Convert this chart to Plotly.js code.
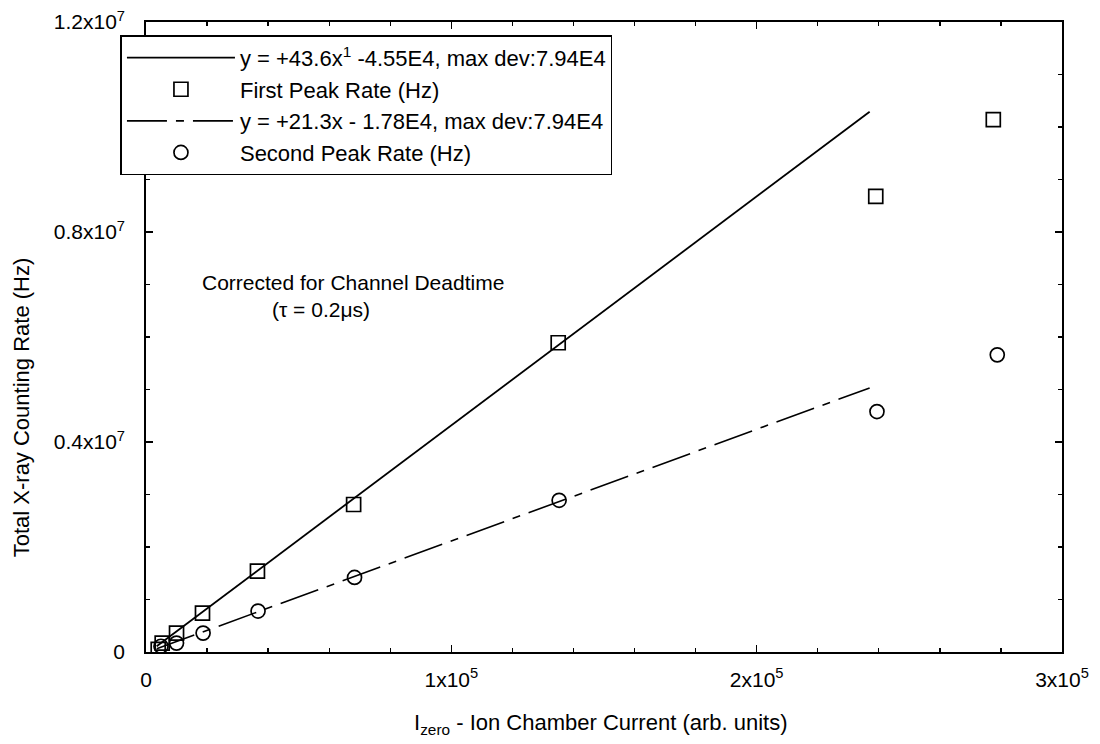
<!DOCTYPE html>
<html>
<head>
<meta charset="utf-8">
<script src="https://cdn.plot.ly/plotly-3.0.1.min.js"></script>
<style>
  html, body { margin: 0; padding: 0; background: #fff; }
  #chart { width: 1100px; height: 744px; }
</style>
</head>
<body>
<div id="chart"></div>
<script>
// ---- data ----
const firstPeakX  = [4000, 5300, 10000, 18500, 36500, 68000, 135000, 239000, 277500];
const firstPeakY  = [50000, 170000, 360000, 740000, 1540000, 2810000, 5890000, 8680000, 10140000];
const secondPeakX = [4900, 10000, 18700, 36700, 68300, 135300, 239400, 278800];
const secondPeakY = [110000, 170000, 360000, 780000, 1420000, 2890000, 4580000, 5660000];
const fit1X = [3500, 237000];
const fit1Y = [110000, 10290000];
const fit2X = [3500, 237000];
const fit2Y = [60000, 5030000];

const legendNames = [
  "y = +43.6x<sup>1</sup> -4.55E4, max dev:7.94E4",
  "First Peak Rate (Hz)",
  "y = +21.3x - 1.78E4, max dev:7.94E4",
  "Second Peak Rate (Hz)"
];
const xTickVals = [0, 100000, 200000, 300000];
const xTickText = ["0", "1x10<sup>5</sup>", "2x10<sup>5</sup>", "3x10<sup>5</sup>"];
const yTickVals = [0, 4000000, 8000000, 12000000];
const yTickText = ["0", "0.4x10<sup>7</sup>", "0.8x10<sup>7</sup>", "1.2x10<sup>7</sup>"];

const FONT = "Liberation Sans, Arial, sans-serif";

const traces = [
  { x: fit1X, y: fit1Y, mode: "lines", name: legendNames[0],
    line: { color: "#000", width: 1.8 } },
  { x: firstPeakX, y: firstPeakY, mode: "markers", name: legendNames[1],
    marker: { symbol: "square-open", size: 14, color: "#000", line: { width: 1.7, color: "#000" } } },
  { x: fit2X, y: fit2Y, mode: "lines", name: legendNames[2],
    line: { color: "#000", width: 1.6, dash: "40px,9px,8px,9px" } },
  { x: secondPeakX, y: secondPeakY, mode: "markers", name: legendNames[3],
    marker: { symbol: "circle-open", size: 14, color: "#000", line: { width: 1.7, color: "#000" } } }
];

const axisCommon = {
  showgrid: false, zeroline: false, showline: true, linecolor: "#000", linewidth: 1.8,
  mirror: "allticks", ticks: "inside", ticklen: 7, tickwidth: 1.3, tickcolor: "#000",
  tickmode: "array", tickfont: { family: FONT, size: 21, color: "#000" }
};

const layout = {
  width: 1100, height: 744,
  margin: { l: 146, r: 38, t: 22, b: 92 },
  paper_bgcolor: "#fff", plot_bgcolor: "#fff",
  font: { family: FONT, color: "#000" },
  showlegend: true,
  legend: {
    x: -0.028, y: 0.979, xanchor: "left", yanchor: "top",
    bgcolor: "#fff", bordercolor: "#000", borderwidth: 1.6,
    font: { family: FONT, size: 22, color: "#000" },
    itemwidth: 108, tracegroupgap: 0, traceorder: "normal"
  },
  xaxis: Object.assign({}, axisCommon, {
    range: [0, 300000], tickvals: xTickVals, ticktext: xTickText, ticklabelstandoff: 8,
    minor: { tickmode: "linear", tick0: 0, dtick: 20000, ticks: "inside", ticklen: 4, tickcolor: "#000", showgrid: false }
  }),
  yaxis: Object.assign({}, axisCommon, {
    range: [0, 12000000], tickvals: yTickVals, ticktext: yTickText, ticklabelstandoff: 15,
    minor: { tickmode: "linear", tick0: 0, dtick: 1000000, ticks: "inside", ticklen: 4, tickcolor: "#000", showgrid: false }
  }),
  annotations: [
    { text: "Corrected for Channel Deadtime", xref: "paper", yref: "paper",
      x: 0.059, y: 0.586, xanchor: "left", yanchor: "middle", showarrow: false,
      font: { family: FONT, size: 21, color: "#000" } },
    { text: "(τ = 0.2μs)", xref: "paper", yref: "paper",
      x: 0.135, y: 0.543, xanchor: "left", yanchor: "middle", showarrow: false,
      font: { family: FONT, size: 21, color: "#000" } },
    { text: "I<sub>zero</sub> - Ion Chamber Current (arb. units)", xref: "paper", yref: "paper",
      x: 0.497, y: -0.115, xanchor: "center", yanchor: "middle", showarrow: false,
      font: { family: FONT, size: 22, color: "#000" } },
    { text: "Total X-ray Counting Rate (Hz)", xref: "paper", yref: "paper",
      x: -0.135, y: 0.389, xanchor: "center", yanchor: "middle", showarrow: false, textangle: -90,
      font: { family: FONT, size: 22, color: "#000" } }
  ]
};

Plotly.newPlot("chart", traces, layout, { displayModeBar: false, staticPlot: true });
</script>
</body>
</html>
